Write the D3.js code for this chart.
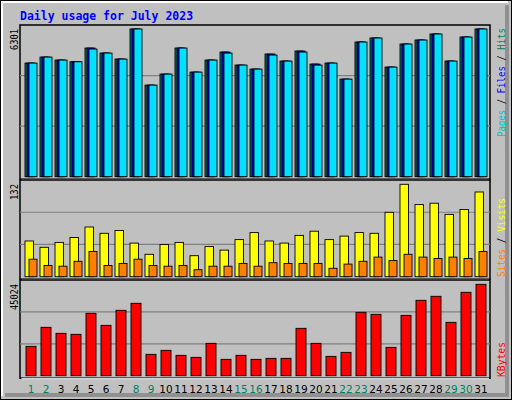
<!DOCTYPE html>
<html><head><meta charset="utf-8">
<script src="https://cdn.jsdelivr.net/npm/d3@7"></script>
<style>body{margin:0;background:#fff}</style></head>
<body><svg id="c" width="512" height="400"></svg>
<script>
const days = d3.range(1,32).map(String);
const weekend = ["1","2","8","9","15","16","22","23","29","30"];
const hits  = [4847,5103,4975,4904,5488,5274,5018,6301,3906,4376,5488,4462,4975,5317,4761,4590,5232,4932,5360,4804,4847,4163,5745,5916,4676,5659,5830,6087,4932,5959,6301];
const files = [4847,5103,4975,4904,5488,5274,5018,6301,3906,4376,5488,4462,4975,5317,4761,4590,5232,4932,5360,4804,4847,4163,5745,5916,4676,5659,5830,6087,4932,5959,6301];
const pages = [4847,5103,4975,4904,5446,5274,5018,6301,3906,4376,5488,4462,4975,5274,4761,4590,5189,4932,5317,4761,4847,4163,5745,5916,4676,5659,5830,6087,4932,5959,6301];
const visits = [51,42,49,56,71,62,66,48,32,46,49,30,43,38,53,63,51,48,59,65,53,58,63,62,92,132,103,105,89,96,121];
const sites  = [25,16,15,22,36,16,19,25,16,15,16,10,15,15,19,15,20,19,19,19,12,18,22,28,23,32,28,26,28,26,36];
const kbytes = [14460,23827,20869,20376,30728,24813,32207,35658,10517,12489,10024,9038,15939,8052,10024,8052,8545,8545,23334,15939,9531,11503,31221,30235,13967,29742,37137,39109,26292,41080,45024];
const maxLabels = ["6301","132","45024"];

const svg = d3.select("#c");
svg.append("rect").attr("x",0.5).attr("y",0.5).attr("width",511).attr("height",399).attr("fill","#c0c0c0").attr("stroke","#000");
svg.append("path").attr("d","M507,5V395H5").attr("fill","none").attr("stroke","#909090").attr("stroke-width",4);
svg.append("path").attr("d","M2,396V2H508").attr("fill","none").attr("stroke","#fff").attr("stroke-width",2);
svg.append("text").attr("x",20).attr("y",20).text("Daily usage for July 2023")
  .attr("font-family","DejaVu Sans Mono").attr("font-weight","bold").attr("font-size",11.5).attr("fill","#0000ff");

const x = d3.scaleBand().domain(days).range([25,490]);
const L=20,R=490;
const panels=[{t:25,b:176.7},{t:180,b:276.7},{t:280,b:375.7}];
panels.forEach(p=>{
  svg.append("rect").attr("x",L).attr("y",p.t).attr("width",R-L).attr("height",p.b-p.t+2.5).attr("fill","#c0c0c0").attr("stroke","#000").attr("stroke-width",1.5);
  svg.append("path").attr("d",`M${L+1.5},${p.b+3}H${R-1}`).attr("stroke","#fff").attr("stroke-width",1);
  [1,2].forEach(i=>{const gy=p.b-(p.b-p.t)*i/3;
    svg.append("line").attr("x1",L).attr("x2",R).attr("y1",gy).attr("y2",gy).attr("stroke","#808080").attr("stroke-width",1.2);});
});
const y1=d3.scaleLinear().domain([0,6301]).range([176.7,29]);
const y2=d3.scaleLinear().domain([0,132]).range([276.7,184.3]);
const y3=d3.scaleLinear().domain([0,45024]).range([375.7,284.3]);

function bars(data,y,off,w,color){
  svg.append("g").selectAll("rect").data(data).join("rect")
   .attr("x",(d,i)=>x(days[i])+off).attr("y",d=>y(d)).attr("width",w).attr("height",d=>y(0)-y(d))
   .attr("fill",color).attr("stroke","#000").attr("stroke-width",0.9);
}
bars(hits,y1,0,8,"#008060");
bars(files,y1,2,8,"#0000ff");
bars(pages,y1,4,8,"#00e0ff");
bars(visits,y2,0,8.5,"#ffff00");
bars(sites,y2,4,8,"#ff8000");
bars(kbytes,y3,1,10,"#ff0000");

svg.append("g").selectAll("text").data(days).join("text")
  .attr("x",d=>x(d)+6).attr("y",393).attr("text-anchor","middle")
  .attr("font-family","DejaVu Sans").attr("font-size",10.5)
  .attr("fill",d=>weekend.includes(d)?"#008060":"#000").text(d=>d);

function vtext(xp,yp,anchor,parts,len){
  const t=svg.append("text").attr("transform",`translate(${xp},${yp}) rotate(-90)`).attr("text-anchor",anchor)
   .attr("font-family","DejaVu Sans Mono").attr("font-size",10.5);
  if(len) t.attr("textLength",len).attr("lengthAdjust","spacingAndGlyphs");
  parts.forEach(([s,c])=>t.append("tspan").attr("fill",c).text(s));
}
vtext(18,29,"end",[[maxLabels[0],"#000"]],21);
vtext(18,184,"end",[[maxLabels[1],"#000"]],16);
vtext(18,284,"end",[[maxLabels[2],"#000"]],26);
vtext(505,28,"end",[["Pages","#00c0d0"],[" / ","#000"],["Files","#0000ff"],[" / ","#000"],["Hits","#008060"]],109);
vtext(505,277,"start",[["Sites","#ff8000"],[" / ","#000"],["Visits","#ffff00"]],79);
vtext(505,377,"start",[["KBytes","#ff0000"]],35);
</script></body></html>
